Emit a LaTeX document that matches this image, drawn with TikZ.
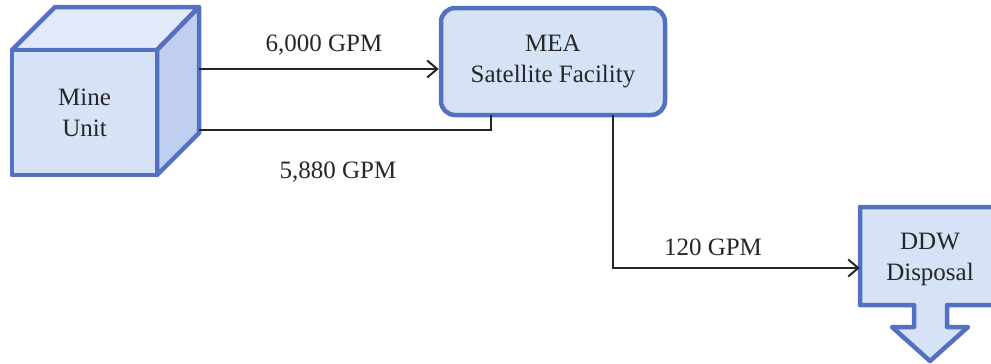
\documentclass[tikz,border=0pt]{standalone}
\usepackage{fontspec}
\setmainfont{Liberation Serif}
\usetikzlibrary{arrows.meta,calc}
\definecolor{bordblue}{RGB}{84,112,192}
\definecolor{fillblue}{RGB}{214,226,246}
\definecolor{sideblue}{RGB}{192,206,240}
\definecolor{topblue}{RGB}{226,234,249}
\tikzset{
  shapeline/.style={draw=bordblue,line width=4.5pt,line join=round},
  conn/.style={draw=black!85,line width=2pt},
  arr/.style={conn,-{Straight Barb[length=10pt,width=17pt,line width=2pt]}},
  lbl/.style={font=\fontsize{25}{29}\selectfont,text=black!85},
  boxtxt/.style={font=\fontsize{25}{31}\selectfont,text=black!85,align=center}
}
\begin{document}
\begin{tikzpicture}[x=1pt,y=-1pt]
\useasboundingbox (0,0) rectangle (991,364);
% cube
\path[shapeline,fill=topblue] (12,50) -- (55,7) -- (199,7) -- (157,50) -- cycle;
\path[shapeline,fill=sideblue] (157,50) -- (199,7) -- (199,133) -- (157,175) -- cycle;
\node[shapeline,fill=fillblue,minimum width=145pt,minimum height=125pt,inner sep=0pt,boxtxt] (mine) at (84.5,112.5) {Mine\\Unit};
% MEA
\node[shapeline,fill=fillblue,rounded corners=14pt,minimum width=224pt,minimum height=107pt,inner sep=0pt,boxtxt] (mea) at (553,61.5) {MEA\\Satellite Facility};
% DDW
\path[shapeline,fill=fillblue] (860,207) -- (1002,207) -- (1002,305) -- (947,305) -- (947,327) -- (968,327) -- (930,361) -- (892,327) -- (914,327) -- (914,305) -- (860,305) -- cycle;
\node[boxtxt,minimum width=140pt,minimum height=98pt,inner sep=0pt] (ddw) at (930,259) {DDW\\Disposal};
% connectors
\coordinate (c1) at (199,69);
\coordinate (c2) at (491,115);
\coordinate (c3) at (199,130);
\coordinate (c4) at (613,115);
\coordinate (c5) at (ddw.west |- 0,268);
\draw[arr] (c1) -- (c1 -| mea.west);
\draw[conn] (c2) |- (c3);
\draw[arr] (c4) |- (c5);
% labels
\node[lbl] (l1) at (324,45) {6,000 GPM};
\node[lbl] (l2) at (338,172) {5,880 GPM};
\node[lbl] (l3) at (713,247) {120 GPM};
\end{tikzpicture}
\end{document}
